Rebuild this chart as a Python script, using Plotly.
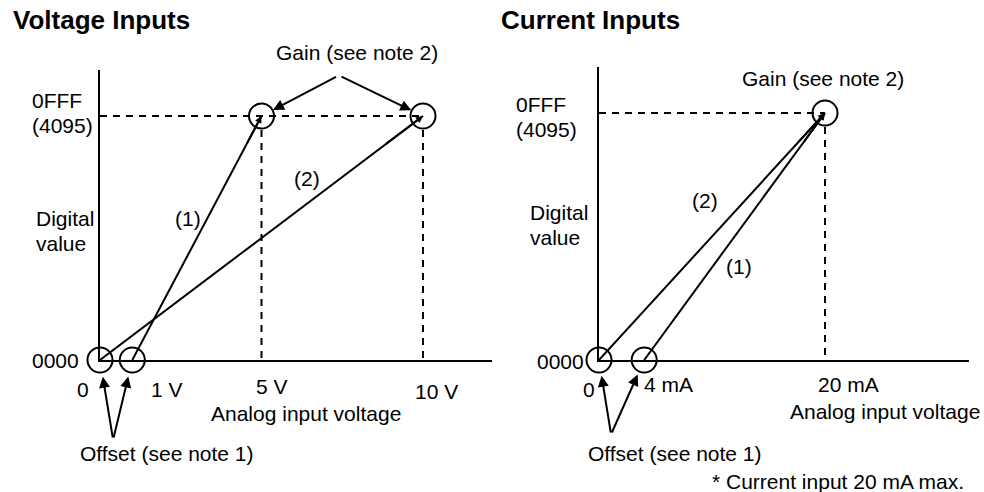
import plotly.graph_objects as go

# ---- data -------------------------------------------------------------
FULL_SCALE = 4095  # 0FFF

# Voltage inputs: analog input (V) -> digital value
volt_line1_x = [1, 5]
volt_line1_y = [0, FULL_SCALE]
volt_line2_x = [0, 10]
volt_line2_y = [0, FULL_SCALE]
volt_offset_x = [0, 1]
volt_gain_x = [5, 10]

# Current inputs: analog input (mA) -> digital value
curr_line1_x = [4, 20]
curr_line1_y = [0, FULL_SCALE]
curr_line2_x = [0, 20]
curr_line2_y = [0, FULL_SCALE]
curr_offset_x = [0, 4]
curr_gain_x = [20]

volt_tick_labels = ["0", "1 V", "5 V", "10 V"]
curr_tick_labels = ["0", "4 mA", "20 mA"]

# ---- layout constants -------------------------------------------------
W, H = 984, 492
FONT = "Liberation Sans, Arial, Helvetica, sans-serif"
FS = 21
INK = "#000000"


def px(x, y):
    """pixel position -> paper coordinates"""
    return x / W, 1 - y / H


fig = go.Figure()

line_style = dict(color=INK, width=2)
circle_marker = dict(symbol="circle-open", size=25, color=INK, line=dict(color=INK, width=2))
dash_style = dict(color=INK, width=2, dash="7px,6px")


def panel(xa, ya, l1x, l1y, l2x, l2y, offs, gains, ymax, px_h):
    # dashed guide lines at full scale
    fig.add_trace(go.Scatter(x=[0, max(gains)], y=[FULL_SCALE, FULL_SCALE], mode="lines",
                             line=dash_style, xaxis=xa, yaxis=ya, cliponaxis=False))
    gap = 14 * ymax / px_h  # start below the gain circle
    for g in gains:
        fig.add_trace(go.Scatter(x=[g, g], y=[FULL_SCALE - gap, 0], mode="lines",
                                 line=dash_style, xaxis=xa, yaxis=ya, cliponaxis=False))
    # conversion lines (1) and (2)
    for lx, ly in ((l1x, l1y), (l2x, l2y)):
        fig.add_trace(go.Scatter(x=lx, y=ly, mode="lines", line=line_style,
                                 xaxis=xa, yaxis=ya, cliponaxis=False))
        # small arrowhead at the gain end
        fig.add_annotation(x=lx[1], y=ly[1], ax=lx[1] - 0.12 * (lx[1] - lx[0]),
                           ay=ly[1] - 0.12 * (ly[1] - ly[0]),
                           xref=xa, yref=ya, axref=xa, ayref=ya, text="",
                           showarrow=True, arrowhead=2, arrowsize=0.7, arrowwidth=2,
                           arrowcolor=INK)
    # offset and gain circles
    fig.add_trace(go.Scatter(x=offs + gains, y=[0] * len(offs) + [FULL_SCALE] * len(gains),
                             mode="markers", marker=circle_marker,
                             xaxis=xa, yaxis=ya, cliponaxis=False))


# left panel geometry (pixels)
L_X0, L_X1, L_Y0, L_Y1 = 100, 492, 70, 360
L_XMAX = 10 * (L_X1 - L_X0) / 323
L_YMAX = FULL_SCALE * (L_Y1 - L_Y0) / 244
# right panel geometry (pixels)
R_X0, R_X1, R_Y0, R_Y1 = 599, 969, 67, 360
R_XMAX = 20 * (R_X1 - R_X0) / 226
R_YMAX = FULL_SCALE * (R_Y1 - R_Y0) / 247

panel("x", "y", volt_line1_x, volt_line1_y, volt_line2_x, volt_line2_y,
      volt_offset_x, volt_gain_x, L_YMAX, L_Y1 - L_Y0)
panel("x2", "y2", curr_line1_x, curr_line1_y, curr_line2_x, curr_line2_y,
      curr_offset_x, curr_gain_x, R_YMAX, R_Y1 - R_Y0)

axis_common = dict(showline=True, linecolor=INK, linewidth=2, showgrid=False,
                   zeroline=False, showticklabels=False, ticks="", fixedrange=True)

fig.update_layout(
    width=W, height=H, margin=dict(l=0, r=0, t=0, b=0),
    paper_bgcolor="white", plot_bgcolor="white", showlegend=False, hovermode=False,
    font=dict(family=FONT, size=FS, color=INK),
    xaxis=dict(domain=[L_X0 / W, L_X1 / W], range=[0, L_XMAX], anchor="y", **axis_common),
    yaxis=dict(domain=[1 - L_Y1 / H, 1 - L_Y0 / H], range=[0, L_YMAX], anchor="x", **axis_common),
    xaxis2=dict(domain=[R_X0 / W, R_X1 / W], range=[0, R_XMAX], anchor="y2", **axis_common),
    yaxis2=dict(domain=[1 - R_Y1 / H, 1 - R_Y0 / H], range=[0, R_YMAX], anchor="x2", **axis_common),
)


def label(text, x, y, anchor="center", size=FS, bold=False):
    fx, fy = px(x, y)
    fig.add_annotation(x=fx, y=fy, xref="paper", yref="paper", text=f"<b>{text}</b>" if bold else text,
                       showarrow=False, xanchor=anchor, yanchor="middle",
                       font=dict(family=FONT, size=size, color=INK))


# titles
label("Voltage Inputs", 11, 20, "left", 26, bold=True)
label("Current Inputs", 499, 20, "left", 26, bold=True)

# left panel texts
label("Gain (see note 2)", 357, 53)
label("0FFF", 30, 100, "left")
label("(4095)", 30, 125, "left")
label("Digital", 34, 219, "left")
label("value", 34, 244, "left")
label("0000", 81, 360, "right")
label(volt_tick_labels[0], 83, 389)
label(volt_tick_labels[1], 167, 389)
label(volt_tick_labels[2], 272, 386)
label(volt_tick_labels[3], 436, 391)
label("Analog input voltage", 306, 413)
label("Offset (see note 1)", 167, 453)
label("(1)", 188, 218)
label("(2)", 307, 178)

# right panel texts
label("Gain (see note 2)", 823, 78)
label("0FFF", 514, 105, "left")
label("(4095)", 514, 130, "left")
label("Digital", 528, 212, "left")
label("value", 528, 237, "left")
label("0000", 586, 361, "right")
label(curr_tick_labels[0], 589, 389)
label(curr_tick_labels[1], 668, 384)
label(curr_tick_labels[2], 848, 384)
label("Analog input voltage", 885, 411)
label("Offset (see note 1)", 675, 453)
label("* Current input 20 mA max.", 838, 481)
label("(2)", 705, 200)
label("(1)", 739, 266)

# pointer arrows (tail offsets in pixels from the marked point)
arrow = dict(showarrow=True, arrowhead=2, arrowsize=1.1, arrowwidth=2, arrowcolor=INK, text="")
# gain pointers, left panel (tail at the apex under the label)
fig.add_annotation(x=volt_gain_x[0], y=FULL_SCALE, xref="x", yref="y", ax=76, ay=-40, standoff=13, **arrow)
fig.add_annotation(x=volt_gain_x[1], y=FULL_SCALE, xref="x", yref="y", ax=-83, ay=-40, standoff=13, **arrow)
# offset pointers, left panel
fig.add_annotation(x=volt_offset_x[0], y=0, xref="x", yref="y", ax=13, ay=79, standoff=17, **arrow)
fig.add_annotation(x=volt_offset_x[1], y=0, xref="x", yref="y", ax=-19, ay=79, standoff=17, **arrow)
# offset pointers, right panel
fig.add_annotation(x=curr_offset_x[0], y=0, xref="x2", yref="y2", ax=12, ay=74, standoff=16, **arrow)
fig.add_annotation(x=curr_offset_x[1], y=0, xref="x2", yref="y2", ax=-33, ay=74, standoff=16, **arrow)

fig.write_html("out.html", config={"displayModeBar": False, "staticPlot": True})
